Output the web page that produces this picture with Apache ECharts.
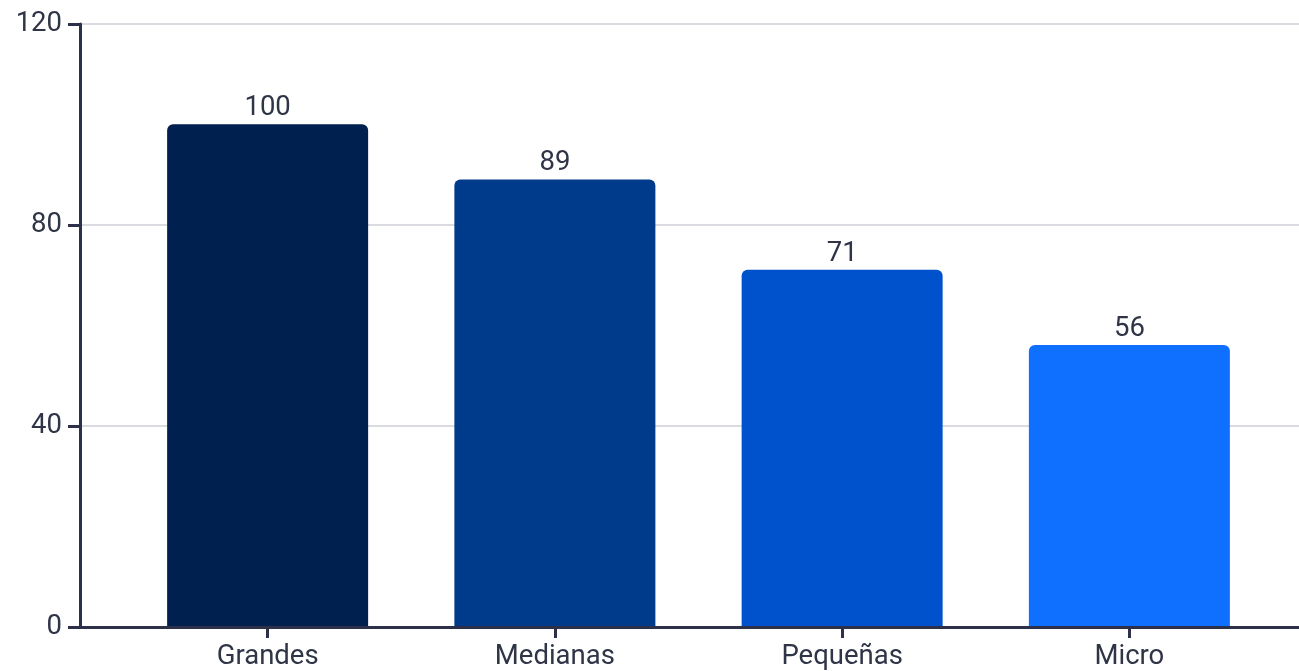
<!DOCTYPE html>
<html>
<head>
<meta charset="utf-8">
<script src="https://cdn.jsdelivr.net/npm/echarts@6/dist/echarts.min.js"></script>
<style>
html,body{margin:0;padding:0;background:#fff;}
#chart{width:1299px;height:671px;}
</style>
</head>
<body>
<div id="chart"></div>
<script>
const categories = ['Grandes', 'Medianas', 'Pequeñas', 'Micro'];
const values = [100, 89, 71, 56];
const yTicks = [0, 40, 80, 120];
const barColors = ['#00214f', '#003a8b', '#0052cc', '#0f6fff'];

const axisColor = '#2c3149';
const textColor = '#2f3446';
const fontFamily = 'Roboto, sans-serif';
const fontSize = 27.5;

const chart = echarts.init(document.getElementById('chart'), null, {renderer: 'canvas'});
chart.setOption({
  animation: false,
  backgroundColor: '#ffffff',
  grid: [
    {left: 80, right: 0, top: 24, bottom: 44, containLabel: false},
    {left: 124, right: 26, top: 24, bottom: 44, containLabel: false}
  ],
  xAxis: [
    {
      gridIndex: 0, type: 'category', data: categories,
      axisLine: {show: true, lineStyle: {color: axisColor, width: 3}},
      axisTick: {show: false}, axisLabel: {show: false}, splitLine: {show: false}
    },
    {
      gridIndex: 1, type: 'category', data: categories,
      axisLine: {show: false},
      axisTick: {show: true, alignWithLabel: true, length: 12, lineStyle: {color: axisColor, width: 3}},
      axisLabel: {color: textColor, fontSize: fontSize, fontFamily: fontFamily, margin: 17},
      splitLine: {show: false}
    }
  ],
  yAxis: [
    {
      gridIndex: 0, type: 'value',
      min: yTicks[0], max: yTicks[yTicks.length - 1], interval: yTicks[1] - yTicks[0],
      axisLine: {show: true, lineStyle: {color: axisColor, width: 3}},
      axisTick: {show: true, length: 12, lineStyle: {color: axisColor, width: 3}},
      axisLabel: {color: textColor, fontSize: fontSize, fontFamily: fontFamily, margin: 18, padding: [3, 0, 0, 0]},
      splitLine: {show: true, lineStyle: {color: '#dadbe0', width: 2}}
    },
    {
      gridIndex: 1, type: 'value',
      min: yTicks[0], max: yTicks[yTicks.length - 1], interval: yTicks[1] - yTicks[0],
      show: false
    }
  ],
  series: [{
    type: 'bar',
    xAxisIndex: 1, yAxisIndex: 1,
    barWidth: 201,
    data: values.map((v, i) => ({value: v, itemStyle: {color: barColors[i], borderRadius: [6, 6, 0, 0]}})),
    label: {show: true, position: 'top', distance: 2, color: textColor, fontSize: fontSize, fontFamily: fontFamily}
  }]
});
</script>
</body>
</html>
